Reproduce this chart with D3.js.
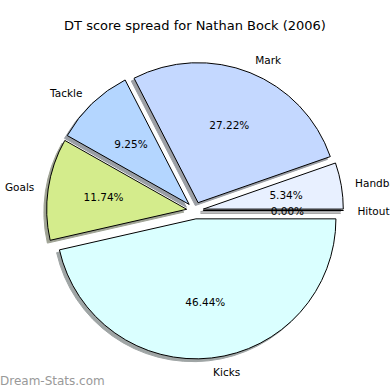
<!DOCTYPE html>
<html>
<head>
<meta charset="utf-8">
<script src="https://cdn.jsdelivr.net/npm/d3@7"></script>
<style>
  body { margin: 0; background: #fff; }
  text { font-family: "DejaVu Sans", sans-serif; fill: #000; }
</style>
</head>
<body>
<svg id="chart" width="390" height="390"></svg>
<script>

// datos, en el orden en que se dibujan (antihorario desde las 3 en punto)
var categorias = ['Hitout', 'Handball', 'Mark', 'Tackle', 'Goals', 'Kicks'];
var porcentajes = [0.00, 5.34, 27.22, 9.25, 11.74, 46.44];
var colores = ['#ffffff', '#e8f0ff', '#c4d8ff', '#b4d6ff', '#d4ec8c', '#daffff'];
var titulo = 'DT score spread for Nathan Bock (2006)';

var W = 390, H = 390;
var CX = 195, CY = 210.5, R = 140;
var EXPLODE = 0.06;

var svg = d3.select('#chart');

var datos = categorias.map(function(c, i){ return {nombre: c, valor: porcentajes[i], color: colores[i]}; });

var pie = d3.pie()
  .sort(null)
  .value(function(d){ return d.valor; })
  .startAngle(Math.PI / 2)
  .endAngle(Math.PI / 2 - 2 * Math.PI);

var arc = d3.arc().innerRadius(0).outerRadius(R);

var porciones = pie(datos);

function dir(d){
  var m = (d.startAngle + d.endAngle) / 2;
  return [Math.sin(m), -Math.cos(m)];
}

function sombra(c){
  var rgb = d3.rgb(c);
  return d3.rgb(rgb.r * 0.3, rgb.g * 0.3, rgb.b * 0.3).toString();
}

var g = svg.append('g').attr('transform', 'translate(' + CX + ',' + CY + ')');

// sombras primero (quedan debajo de todas las porciones)
g.selectAll('path.sombra').data(porciones).enter().append('path')
  .attr('class', 'sombra')
  .attr('d', arc)
  .attr('fill', function(d){ return sombra(d.data.color); })
  .attr('stroke', function(d){ return sombra(d.data.color); })
  .attr('stroke-width', 1)
  .attr('opacity', 0.5)
  .attr('transform', function(d){
    var v = dir(d);
    return 'translate(' + (v[0] * EXPLODE * R - 0.02 * R) + ',' + (v[1] * EXPLODE * R + 0.02 * R) + ')';
  });

g.selectAll('path.porcion').data(porciones).enter().append('path')
  .attr('class', 'porcion')
  .attr('d', arc)
  .attr('fill', function(d){ return d.data.color; })
  .attr('stroke', '#000')
  .attr('stroke-width', 1)
  .attr('stroke-linejoin', 'round')
  .attr('transform', function(d){
    var v = dir(d);
    return 'translate(' + (v[0] * EXPLODE * R) + ',' + (v[1] * EXPLODE * R) + ')';
  });

// etiquetas de categoria
g.selectAll('text.etiqueta').data(porciones).enter().append('text')
  .attr('class', 'etiqueta')
  .attr('font-size', 10.5)
  .attr('dominant-baseline', 'central')
  .attr('text-anchor', function(d){ return dir(d)[0] > 0 ? 'start' : 'end'; })
  .attr('x', function(d){ return dir(d)[0] * (EXPLODE + 1.1) * R; })
  .attr('y', function(d){ return dir(d)[1] * (EXPLODE + 1.1) * R; })
  .text(function(d){ return d.data.nombre; });

// porcentajes
g.selectAll('text.pct').data(porciones).enter().append('text')
  .attr('class', 'pct')
  .attr('font-size', 10.5)
  .attr('dominant-baseline', 'central')
  .attr('text-anchor', 'middle')
  .attr('x', function(d){ return dir(d)[0] * (EXPLODE + 0.6) * R; })
  .attr('y', function(d){ return dir(d)[1] * (EXPLODE + 0.6) * R; })
  .text(function(d){ return d.data.valor.toFixed(2) + '%'; });

svg.append('text')
  .attr('x', W / 2)
  .attr('y', 30)
  .attr('font-size', 13)
  .attr('text-anchor', 'middle')
  .text(titulo);

svg.append('text')
  .attr('x', 0)
  .attr('y', 385)
  .attr('font-size', 12)
  .style('fill', '#999')
  .text('Dream-Stats.com');

</script>
</body>
</html>
